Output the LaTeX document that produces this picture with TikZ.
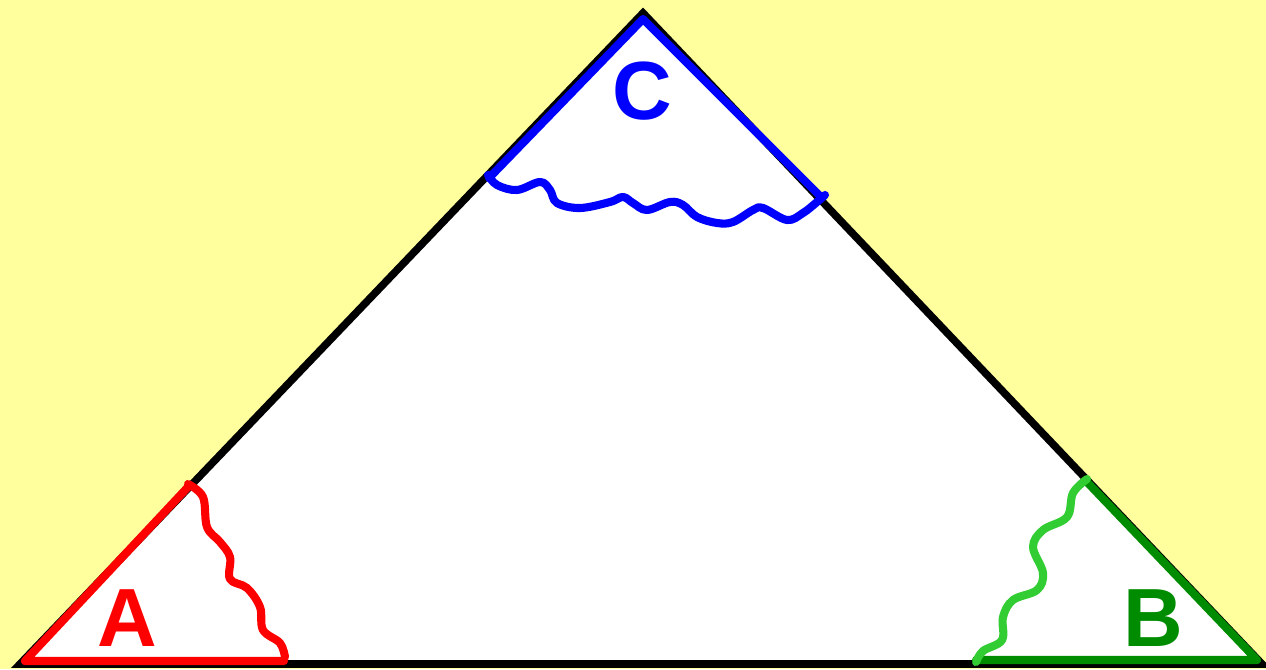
\documentclass[tikz,border=0pt]{standalone}
\usepackage{fontspec}
\setmainfont{Liberation Sans}
\usetikzlibrary{calc}
\definecolor{bgyellow}{RGB}{255,255,158}
\definecolor{angred}{RGB}{255,0,0}
\definecolor{angblue}{RGB}{0,0,255}
\definecolor{anggreen}{RGB}{0,140,0}
\definecolor{cutgreen}{RGB}{50,205,50}
\tikzset{
  edge/.style={line width=4.3pt,black},
  arm/.style={line width=4.6pt,line cap=round,line join=round},
  cut/.style={line width=4.6pt,line cap=round,line join=round,smooth,tension=0.6},
  vlabel/.style={font=\fontsize{47}{56}\selectfont\bfseries,inner sep=0pt}
}

\begin{document}
\begin{tikzpicture}[x=0.02cm,y=-0.02cm]
  \fill[bgyellow] (0,0) rectangle (1266,669);
  \useasboundingbox (0,0) rectangle (1266,669);
  \coordinate (A) at (20,664);
  \coordinate (B) at (1262,664);
  \coordinate (C) at (643,13);

  \fill[white] (A) -- (B) -- (C) -- cycle;
  \draw[edge,line join=miter] (A) -- (B) -- (C) -- cycle;

  \draw[arm,angred] (188,487) -- (25,661) -- (284,661);
  \draw[cut,angred] plot coordinates {(188,484) (203,497) (207,527) (220,542)
    (230,557) (230,579) (247,588) (260,607) (263,630) (280,643) (285,657)};
  \node[vlabel,angred] (labA) at (127,618) {A};

  \draw[arm,anggreen] (1086,481) -- (1257,660) -- (976,660);
  \draw[cut,cutgreen] plot coordinates {(1087,479) (1073,493) (1067,517) (1043,530)
    (1033,547) (1043,573) (1037,590) (1013,600) (1003,617) (1002,640) (983,651) (976,662)};
  \node[vlabel,anggreen] (labB) at (1153,618) {B};

  \draw[arm,angblue] (489,178) -- (643,19) -- (821,197);
  \draw[cut,angblue] plot coordinates {(488,175) (497,185) (517,190) (540,182)
    (550,190) (557,203) (580,208) (610,202) (623,197) (633,203) (647,210) (670,202)
    (683,205) (697,217) (717,223) (733,222) (753,210) (763,208) (787,220) (803,213)
    (817,202) (825,195)};
  \node[vlabel,angblue] (labC) at (642,91) {C};
\end{tikzpicture}
\end{document}
